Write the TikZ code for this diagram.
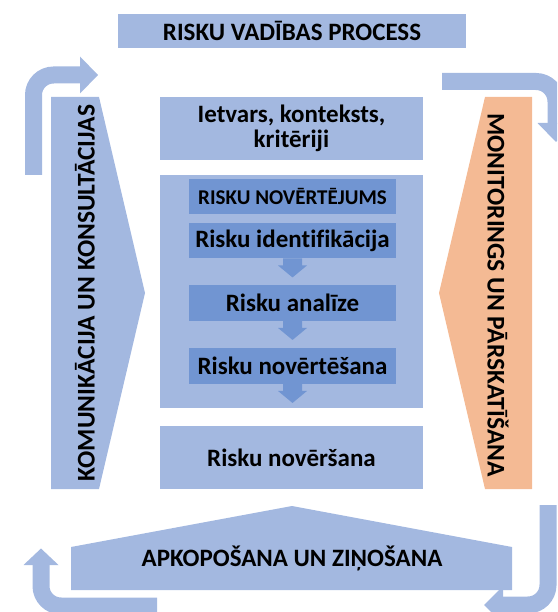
\documentclass[tikz,border=0pt]{standalone}
\usepackage{fontspec}
\setmainfont{Carlito}[Ligatures=NoCommon]
\usetikzlibrary{calc}

\definecolor{lightblue}{HTML}{A3B8E0}
\definecolor{midblue}{HTML}{7195D2}
\definecolor{peach}{HTML}{F4BA94}

\begin{document}
\begin{tikzpicture}[x=1pt,y=-1pt,
  lbl/.style={inner sep=0pt, text=black, font=\bfseries\fontsize{25}{25}\selectfont},
  sidelbl/.style={lbl, font=\bfseries\fontsize{25.5}{26}\selectfont},
  box/.style={lbl, fill=lightblue, align=center},
  inner/.style={lbl, fill=midblue, minimum width=207pt, minimum height=35.5pt},
  band/.style={draw=lightblue, line width=17pt, rounded corners=20pt},
  stepdown/.style={fill=midblue}
]
\useasboundingbox (0,0) rectangle (557,612);
\clip (0,0) rectangle (557,612);

% title bar
\node[box, minimum width=348pt, minimum height=34pt] (title) at (292,31) {RISKU VADĪBAS PROCESS};

% side shapes
\fill[lightblue] (51,97) -- (99,97) -- (145,293) -- (99,489) -- (51,489) -- cycle;
\node[sidelbl, rotate=90] (komm) at (85,293) {KOMUNIKĀCIJA UN KONSULTĀCIJAS};
\fill[peach] (532,97) -- (485,97) -- (439,293) -- (485,489) -- (532,489) -- cycle;
\node[sidelbl, rotate=-90] (monit) at (498,295) {MONITORINGS UN PĀRSKATĪŠANA};

% central column
\node[box, minimum width=263pt, minimum height=63pt] (ietvars) at (291.5,128.5)
  {Ietvars, konteksts,\\kritēriji};
\node[box, minimum width=263pt, minimum height=233pt] (novert) at (291.5,291.5) {};
\node[inner, font=\bfseries\fontsize{21}{22}\selectfont] (hdr) at (292.5,196.5) {RISKU NOVĒRTĒJUMS};
\node[inner] (ident) at (292.5,240.5) {Risku identifikācija};
\node[inner] (anal) at (292.5,303) {Risku analīze};
\node[inner] (nvrt) at (292.5,366) {Risku novērtēšana};
\node[box, minimum width=263pt, minimum height=63pt] (novers) at (291.5,457.5) {Risku novēršana};

% small down arrows below the assessment steps
\foreach \n in {ident,anal,nvrt}{
  \fill[stepdown] ($(\n.south)+(-9.5,0)$) -- ($(\n.south)+(-9.5,7)$) -- ($(\n.south)+(-14.5,7)$)
    -- ($(\n.south)+(0,19)$) -- ($(\n.south)+(14.5,7)$) -- ($(\n.south)+(9.5,7)$)
    -- ($(\n.south)+(9.5,0)$) -- cycle;
}

% reporting banner
\fill[lightblue] (71,590) -- (71,547) -- (292,506) -- (512,547) -- (512,590) -- cycle;
\node[lbl] (apkop) at (292,558) {APKOPOŠANA UN ZIŅOŠANA};

% cycle arrows round the frame
\coordinate (tlA) at (33.5,175);
\coordinate (tlB) at (81,75);
\draw[band] (tlA) |- (tlB);
\fill[lightblue] ($(tlB)+(-1,-18.5)$) -- ($(tlB)+(17,0)$) -- ($(tlB)+(-1,18.5)$) -- cycle;

\coordinate (trA) at (442,81.5);
\coordinate (trB) at (556,124);
\draw[band] (trA) -| (trB);
\fill[lightblue] ($(trB)+(-18.5,-1)$) -- ($(trB)+(0,18)$) -- ($(trB)+(18.5,-1)$) -- cycle;

\coordinate (brA) at (548,505);
\coordinate (brB) at (502,605);
\draw[band] (brA) |- (brB);
\fill[lightblue] ($(brB)+(1,-19)$) -- ($(brB)+(-18,0)$) -- ($(brB)+(1,19)$) -- cycle;

\coordinate (blA) at (157,606);
\coordinate (blB) at (41,564);
\draw[band] (blA) -| (blB);
\fill[lightblue] ($(blB)+(-17.5,1)$) -- ($(blB)+(0,-15.5)$) -- ($(blB)+(17.5,1)$) -- cycle;
\end{tikzpicture}
\end{document}
